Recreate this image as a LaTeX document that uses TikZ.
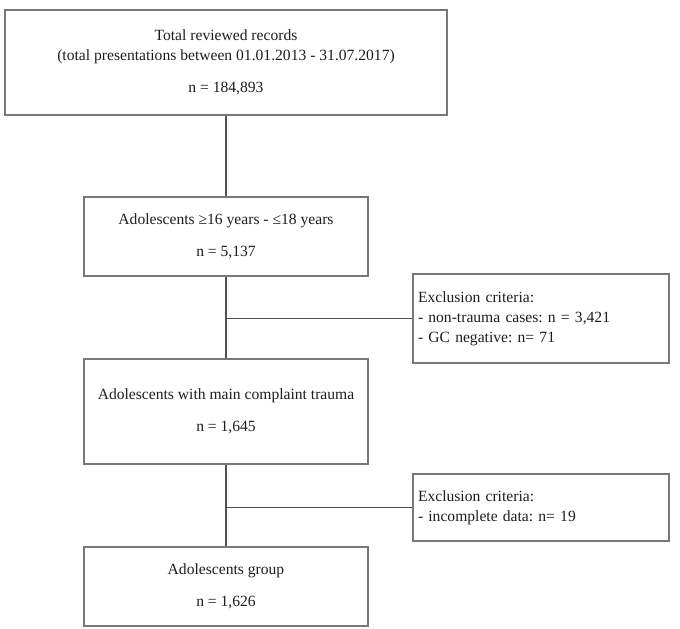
\documentclass[tikz,border=0pt]{standalone}
\usepackage{fontspec}
\setmainfont{Liberation Serif}
\usepackage{xcolor}
\definecolor{grisborde}{RGB}{120,120,120}
\definecolor{grislinea}{RGB}{80,80,80}
\definecolor{textoosc}{RGB}{30,30,30}

\tikzset{
  caja/.style={draw=grisborde, line width=1.2pt, fill=white, text=textoosc,
    align=center, inner sep=0pt, font=\fontsize{15.6}{20}\selectfont\frenchspacing},
  cajaexcl/.style={caja, align=left, inner xsep=5pt, text width=246pt},
  conector/.style={draw=grislinea, line width=1.1pt}
}

\begin{document}
\begin{tikzpicture}[x=1pt, y=-1pt]
    \useasboundingbox (0,0) rectangle (680,629);

    % columna principal
    \node[caja, minimum width=442pt, minimum height=105pt] (total) at (226,62.5)
      {Total reviewed records\\
       (total presentations between 01.01.2013 - 31.07.2017)\\[12pt]
       n = 184,893};
    \node[caja, minimum width=284pt, minimum height=79pt] (edad) at (226,236.5)
      {Adolescents ≥16 years - ≤18 years\\[12pt] n = 5,137};
    \node[caja, minimum width=284pt, minimum height=105pt] (trauma) at (226,411.5)
      {Adolescents with main complaint trauma\\[12pt] n = 1,645};
    \node[caja, minimum width=284pt, minimum height=79pt] (grupo) at (226,586.5)
      {Adolescents group\\[12pt] n = 1,626};

    % exclusiones
    \node[cajaexcl, minimum height=89pt] (excluno) at (541,318.5)
      {Exclusion criteria:\\
       - non-trauma cases: n = 3,421\\
       - GC negative: n= 71};
    \node[cajaexcl, minimum height=67pt] (excldos) at (541,507.5)
      {Exclusion criteria:\\
       - incomplete data: n= 19};

    % conectores
    \draw[conector] (total.south) -- (edad.north);
    \draw[conector] (edad.south) -- (trauma.north);
    \draw[conector] (trauma.south) -- (grupo.north);
    \draw[conector] (edad.south |- excluno.west) -- (excluno.west);
    \draw[conector] (trauma.south |- excldos.west) -- (excldos.west);
  \end{tikzpicture}
\end{document}
